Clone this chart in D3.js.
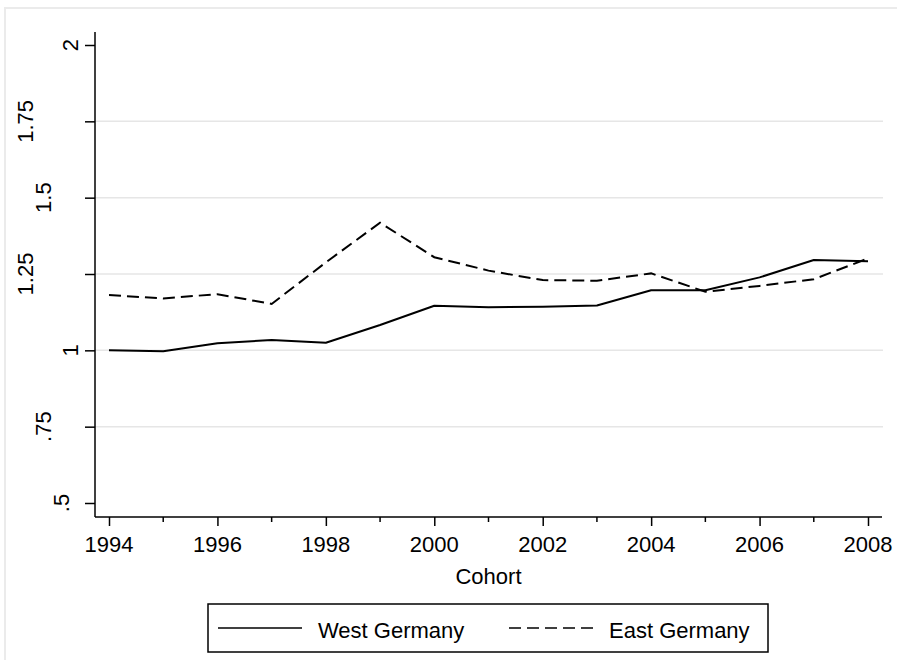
<!DOCTYPE html>
<html>
<head>
<meta charset="utf-8">
<script src="https://cdn.jsdelivr.net/npm/d3@7"></script>
<style>
  html, body { margin: 0; padding: 0; background: #fff; }
  text { font-family: "Liberation Sans", Arial, sans-serif; fill: #000; }
</style>
</head>
<body>
<div id="canvas"></div>
<script>
// data
const years = [1994, 1995, 1996, 1997, 1998, 1999, 2000, 2001, 2002, 2003, 2004, 2005, 2006, 2007, 2008];
const westGermany = [1.000, 0.997, 1.023, 1.034, 1.025, 1.083, 1.146, 1.141, 1.143, 1.147, 1.197, 1.197, 1.239, 1.296, 1.292];
const eastGermany = [1.181, 1.170, 1.184, 1.152, 1.288, 1.418, 1.305, 1.261, 1.230, 1.228, 1.252, 1.192, 1.211, 1.233, 1.301];
const yTicks = [0.5, 0.75, 1, 1.25, 1.5, 1.75, 2];
const yTickLabels = [".5", ".75", "1", "1.25", "1.5", "1.75", "2"];
const xTicks = [1994, 1996, 1998, 2000, 2002, 2004, 2006, 2008];
const seriesNames = ["West Germany", "East Germany"];

// define svg canvas
const width = 897,
    height = 660,
    axisLeft = 95,
    axisBottom = 517,
    axisRight = 882,
    axisTop = 32;

const svg = d3.select("#canvas")
    .append("svg")
    .attr("width", width)
    .attr("height", height);

// graph region border
svg.append("rect")
    .attr("x", 5)
    .attr("y", 8)
    .attr("width", width + 20)
    .attr("height", height + 20)
    .attr("fill", "#fff")
    .attr("stroke", "#ebebeb")
    .attr("stroke-width", 2);

// define scales
const x = d3.scaleLinear()
    .domain([years[0], years[years.length - 1]])
    .range([109, 868]);

const y = d3.scaleLinear()
    .domain([0.5, 2])
    .range([503, 45]);

// gridlines (interior ticks only)
svg.append("g")
    .selectAll("line")
    .data(yTicks.slice(1, -1))
    .join("line")
    .attr("x1", axisLeft)
    .attr("x2", axisRight + 1)
    .attr("y1", d => y(d))
    .attr("y2", d => y(d))
    .attr("stroke", "#e6e6e6")
    .attr("stroke-width", 1.5);

// y axis
const yAxis = svg.append("g")
    .attr("transform", "translate(" + axisLeft + ",0)")
    .call(d3.axisLeft(y).tickValues(yTicks).tickSize(10).tickFormat(""));
yAxis.select(".domain").attr("d", "M0," + axisTop + "V" + axisBottom);
yAxis.selectAll("line, path").attr("stroke", "#000").attr("stroke-width", 1.5);

// rotated y tick labels, staggered like the original
const yLabels = svg.append("g")
    .selectAll("text")
    .data(yTicks)
    .join("text")
    .attr("text-anchor", "middle")
    .style("font-size", "22px")
    .text((d, i) => yTickLabels[i]);

yLabels.each(function(d) {
    const w = this.getComputedTextLength();
    const bx = 78 - 1.47 * (w - 12.2);
    d3.select(this).attr("transform", "translate(" + bx + "," + y(d) + ") rotate(-90)");
});

// x axis
const xAxis = svg.append("g")
    .attr("transform", "translate(0," + axisBottom + ")")
    .call(d3.axisBottom(x).tickValues(xTicks).tickSize(9).tickFormat(""));
xAxis.select(".domain").attr("d", "M" + axisLeft + ",0H" + axisRight);
xAxis.selectAll("line, path").attr("stroke", "#000").attr("stroke-width", 1.5);

// minor ticks at odd years
svg.append("g")
    .selectAll("line")
    .data(years.filter(d => xTicks.indexOf(d) < 0))
    .join("line")
    .attr("x1", d => x(d))
    .attr("x2", d => x(d))
    .attr("y1", axisBottom)
    .attr("y2", axisBottom + 5)
    .attr("stroke", "#000")
    .attr("stroke-width", 1.5);

svg.append("g")
    .selectAll("text")
    .data(xTicks)
    .join("text")
    .attr("x", d => x(d))
    .attr("y", 552)
    .attr("text-anchor", "middle")
    .style("font-size", "22px")
    .text(d => d);

svg.append("text")
    .attr("x", (axisLeft + axisRight) / 2)
    .attr("y", 584)
    .attr("text-anchor", "middle")
    .style("font-size", "22px")
    .text("Cohort");

// plot lines
const line = d3.line()
    .x((d, i) => x(years[i]))
    .y(d => y(d));

svg.append("path")
    .datum(westGermany)
    .attr("fill", "none")
    .attr("stroke", "#000")
    .attr("stroke-width", 2)
    .attr("stroke-linejoin", "round")
    .attr("d", line);

svg.append("path")
    .datum(eastGermany)
    .attr("fill", "none")
    .attr("stroke", "#000")
    .attr("stroke-width", 2)
    .style("stroke-dasharray", "12, 6")
    .attr("d", line);

// legend
const legend = svg.append("g");
legend.append("rect")
    .attr("x", 208)
    .attr("y", 604)
    .attr("width", 560)
    .attr("height", 48)
    .attr("fill", "#fff")
    .attr("stroke", "#000")
    .attr("stroke-width", 1.5);

const legendItems = [
    {name: seriesNames[0], x1: 218, dash: null},
    {name: seriesNames[1], x1: 509, dash: "12, 6"}
];
legendItems.forEach(item => {
    legend.append("line")
        .attr("x1", item.x1)
        .attr("x2", item.x1 + 84)
        .attr("y1", 628)
        .attr("y2", 628)
        .attr("stroke", "#000")
        .attr("stroke-width", 1.5)
        .style("stroke-dasharray", item.dash);
    legend.append("text")
        .attr("x", item.x1 + 100)
        .attr("y", 638)
        .style("font-size", "22px")
        .text(item.name);
});
</script>
</body>
</html>
